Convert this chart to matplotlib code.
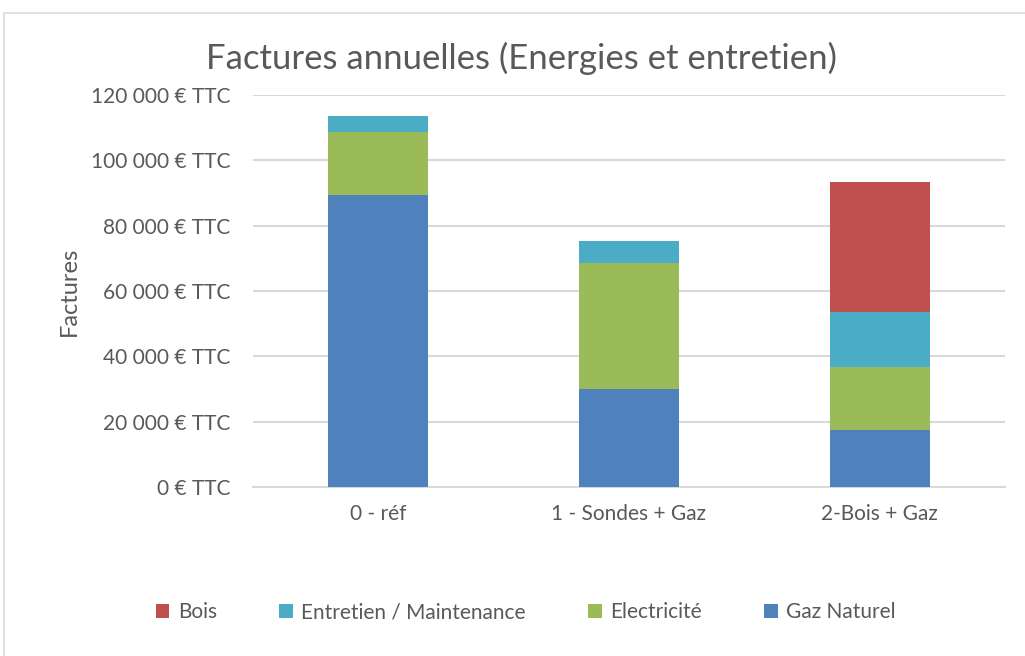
import numpy as np
import matplotlib.pyplot as plt
from matplotlib.patches import Rectangle

plt.rcParams['font.family'] = ['Lato', 'DejaVu Sans']

# Scénarios et factures annuelles par poste (€ TTC)
scenarios = ['0 - réf', '1 - Sondes + Gaz', '2-Bois + Gaz']
gaz_naturel = [89300, 30100, 17600]
electricite = [19400, 38400, 19200]
entretien = [4800, 6900, 16700]
bois = [0, 0, 39900]

series = [
    ('Gaz Naturel', gaz_naturel, '#4f81bd'),
    ('Electricité', electricite, '#9bbb59'),
    ('Entretien / Maintenance', entretien, '#4bacc6'),
    ('Bois', bois, '#c0504d'),
]

yticks = np.arange(0, 120001, 20000)
text_color = '#595959'

fig = plt.figure(figsize=(10.25, 6.56), dpi=100)
ax = fig.add_axes([0.2468, 0.2572, 0.7337, 0.5984])

x = np.arange(len(scenarios))
bottom = np.zeros(len(scenarios))
handles = []
for name, vals, color in series:
    vals = np.array(vals, dtype=float)
    b = ax.bar(x, vals, 0.4, bottom=bottom, color=color, label=name, zorder=3)
    handles.append(b)
    bottom += vals

ax.set_xlim(-0.5, 2.5)
ax.set_ylim(0, 120000)
ax.set_yticks(yticks)
ax.set_yticklabels(['{:,} € TTC'.format(v).replace(',', ' ') for v in yticks])
ax.set_xticks(x)
ax.set_xticklabels(scenarios)
ax.tick_params(length=0, labelsize=15, colors=text_color)
ax.tick_params(axis='y', pad=16)
ax.tick_params(axis='x', pad=12)
ax.grid(axis='y', color='#d9d9d9', linewidth=1.5, zorder=0)
for s in ['top', 'right', 'left']:
    ax.spines[s].set_visible(False)
ax.spines['bottom'].set_color('#d9d9d9')
ax.spines['bottom'].set_linewidth(1.5)

ax.set_ylabel('Factures', fontsize=17, color=text_color, labelpad=8)
fig.text(0.509, 0.911, 'Factures annuelles (Energies et entretien)',
         ha='center', va='center', fontsize=25, color=text_color)

leg = fig.legend(handles[::-1], [h.get_label() for h in handles[::-1]],
                 loc='center', bbox_to_anchor=(0.513, 0.067), ncol=4,
                 frameon=False, fontsize=15, handlelength=0.65, handleheight=0.65,
                 handletextpad=0.4, columnspacing=3.0)
for t in leg.get_texts():
    t.set_color(text_color)

# cadre du graphique
fig.patches.append(Rectangle((4 / 1025, -0.01), 1.1, 1 - 13 / 656 + 0.01,
                             transform=fig.transFigure, fill=False,
                             edgecolor='#d9d9d9', linewidth=1.2))

fig.savefig('out.png', dpi=100)
